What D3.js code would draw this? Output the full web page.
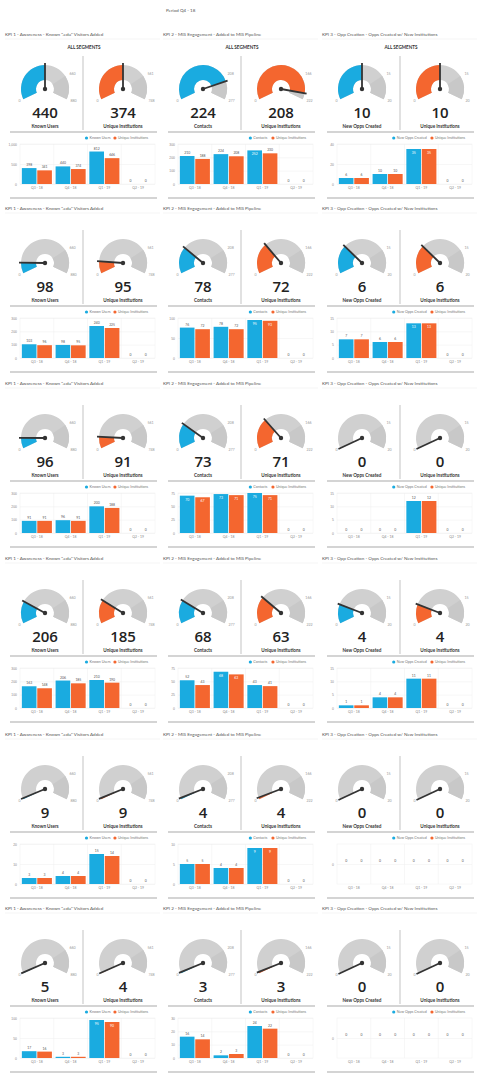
<!DOCTYPE html>
<html><head><meta charset="utf-8">
<script src="https://cdn.jsdelivr.net/npm/d3@7"></script>
<style>body{margin:0;background:#fff;font-family:Lato,"Open Sans",sans-serif}</style>
</head><body><svg id="c" width="484" height="1080"></svg>
<script>
const categories = ["Q3 - 18","Q4 - 18","Q1 - 19","Q2 - 19"];
const kpiTitles = ["KPI 1 - Awareness - Known \".edu\" Visitors Added","KPI 2 - MIS Engagement - Added to MIS Pipeline","KPI 3 - Opp Creation - Opps Created w/ New Institutions"];
const seriesA = ["Known Users","Contacts","New Opps Created"];
const seriesB = "Unique Institutions";
const gaugeMax = [[880,748],[277,222],[20,20]];
const gaugeTarget = [[660,561],[208,166],[15,15]];
const gaugeValues = [
 [[440,374],[224,208],[10,10]],
 [[98,95],[78,72],[6,6]],
 [[96,91],[73,71],[0,0]],
 [[206,185],[68,63],[4,4]],
 [[9,9],[4,4],[0,0]],
 [[5,4],[3,3],[0,0]]
];
const barsA = [
 [[398,440,812,0],[210,224,252,0],[6,10,35,0]],
 [[103,98,240,0],[76,78,95,0],[7,6,13,0]],
 [[91,96,200,0],[70,73,75,0],[0,0,12,0]],
 [[163,206,210,0],[52,68,43,0],[1,4,11,0]],
 [[3,4,15,0],[5,4,9,0],[0,0,0,0]],
 [[17,3,95,0],[16,2,24,0],[0,0,0,0]]
];
const barsB = [
 [[341,374,646,0],[188,208,230,0],[6,10,35,0]],
 [[96,95,225,0],[72,72,93,0],[7,6,13,0]],
 [[91,91,188,0],[67,71,71,0],[0,0,12,0]],
 [[148,185,190,0],[43,63,41,0],[1,4,11,0]],
 [[3,4,14,0],[5,4,9,0],[0,0,0,0]],
 [[16,3,90,0],[14,3,22,0],[0,0,0,0]]
];
const yTicks = [
 [[0,500,1000],[0,100,200,300],[0,20,40]],
 [[0,100,200,300],[0,50,100],[0,5,10,15]],
 [[0,100,200,300],[0,25,50,75],[0,5,10,15]],
 [[0,100,200,300],[0,25,50,75],[0,5,10,15]],
 [[0,10,20],[0,5,10],[0]],
 [[0,50,100],[0,10,20,30],[0]]
];
const BLUE="#1aabe0", ORANGE="#f4662f", GRAY="#d0d0d0", TXT="#555";
const svg=d3.select("#c");
svg.append("text").attr("x",166).attr("y",12).attr("font-size",4.5).attr("fill",TXT).text("Period   Q4 - 18");
const colX=[5,163,322], rowY=[36,210,385,560,736,910];
const fmt=d3.format(",");
const ang=d3.scaleLinear().range([-115*Math.PI/180,115*Math.PI/180]).clamp(true);
function gauge(g,cx,cy,val,max,tgt,color,label){
  const a=ang.copy().domain([0,max]);
  const arc=d3.arc().innerRadius(9).outerRadius(24);
  g.append("path").attr("transform",`translate(${cx},${cy})`).attr("d",arc({startAngle:a(0),endAngle:a(max)})).attr("fill",GRAY);
  g.append("path").attr("transform",`translate(${cx},${cy})`).attr("d",arc({startAngle:a(tgt),endAngle:a(max)})).attr("fill","#c8c8c8");
  if(val>0) g.append("path").attr("transform",`translate(${cx},${cy})`).attr("d",arc({startAngle:a(0),endAngle:a(val)})).attr("fill",color);
  const t=a(val);
  g.append("line").attr("x1",cx).attr("y1",cy).attr("x2",cx+26*Math.sin(t)).attr("y2",cy-26*Math.cos(t)).attr("stroke","#333").attr("stroke-width",1.8);
  g.append("circle").attr("cx",cx).attr("cy",cy).attr("r",2.2).attr("fill","#333");
  const lab=(v,r,anchor)=>{const aa=a(v);g.append("text").attr("x",cx+r*Math.sin(aa)).attr("y",cy-r*Math.cos(aa)+1.5).attr("font-size",3.6).attr("fill","#999").attr("text-anchor",anchor).text(fmt(v));};
  lab(0,27,"end"); lab(tgt,29,"start"); lab(max,28,"start");
  g.append("text").attr("x",cx).attr("y",cy+29).attr("text-anchor","middle").attr("font-size",15).attr("font-weight",600).attr("fill","#222").attr("font-family","'Open Sans',sans-serif").text(fmt(val));
  g.append("text").attr("x",cx).attr("y",cy+39).attr("text-anchor","middle").attr("font-size",4.6).attr("font-weight","bold").attr("fill","#333").text(label);
}
rowY.forEach((T,r)=>{
  colX.forEach((X,k)=>{
    const g=svg.append("g");
    g.append("text").attr("x",X).attr("y",T).attr("font-size",4.6).attr("fill",TXT).text(kpiTitles[k]);
    g.append("line").attr("x1",X).attr("x2",X+155).attr("y1",T+3).attr("y2",T+3).attr("stroke","#eee").attr("stroke-width",0.6);
    if(r===0) g.append("text").attr("x",X+79).attr("y",T+13).attr("text-anchor","middle").attr("font-size",4.6).attr("font-weight","bold").attr("fill","#333").text("ALL SEGMENTS");
    const cy=T+53;
    gauge(g,X+40,cy,gaugeValues[r][k][0],gaugeMax[k][0],gaugeTarget[k][0],BLUE,seriesA[k]);
    gauge(g,X+118,cy,gaugeValues[r][k][1],gaugeMax[k][1],gaugeTarget[k][1],ORANGE,seriesB);
    g.append("line").attr("x1",X+78).attr("x2",X+78).attr("y1",T+20).attr("y2",T+94).attr("stroke","#aaa").attr("stroke-width",0.7);
    g.append("line").attr("x1",X+5).attr("x2",X+152).attr("y1",T+96).attr("y2",T+96).attr("stroke","#aaa").attr("stroke-width",1.2);
    const lg=g.append("g");
    const lx=X+150;
    const wB=seriesB.length*1.95, wA=seriesA[k].length*1.95;
    lg.append("circle").attr("cx",lx-wB-3).attr("cy",T+102).attr("r",1.6).attr("fill",ORANGE);
    lg.append("text").attr("x",lx-wB).attr("y",T+103.3).attr("font-size",3.6).attr("fill","#777").text(seriesB);
    lg.append("circle").attr("cx",lx-wB-wA-10).attr("cy",T+102).attr("r",1.6).attr("fill",BLUE);
    lg.append("text").attr("x",lx-wB-wA-7).attr("y",T+103.3).attr("font-size",3.6).attr("fill","#777").text(seriesA[k]);
    const ticks=yTicks[r][k];
    const top=T+108, bot=T+148;
    const zero=ticks.length===1;
    const y=d3.scaleLinear().domain(zero?[-1,1]:[0,ticks[ticks.length-1]]).range([bot,top]);
    const x=d3.scaleBand().domain(categories).range([X+15,X+150]);
    const xi=d3.scaleBand().domain([0,1]).range([0,x.bandwidth()]).paddingInner(0.05).paddingOuter(0.12);
    categories.forEach((c,i)=>{ if(i>0) g.append("line").attr("x1",x(c)).attr("x2",x(c)).attr("y1",top).attr("y2",bot).attr("stroke","#eee").attr("stroke-width",0.5);});
    g.append("rect").attr("x",X+15).attr("y",top).attr("width",135).attr("height",bot-top).attr("fill","none").attr("stroke","#f0f0f0").attr("stroke-width",0.5);
    const yAx=g.append("g").attr("transform",`translate(${X+15},0)`).call(d3.axisLeft(y).tickValues(ticks).tickSize(-135).tickFormat(fmt));
    yAx.select(".domain").remove();
    yAx.selectAll("line").attr("stroke","#eee").attr("stroke-width",0.5);
    yAx.selectAll("text").attr("font-size",3.4).attr("fill","#888").attr("x",-3);
    g.append("g").selectAll("text").data(categories).join("text").attr("x",c=>x(c)+x.bandwidth()/2).attr("y",bot+5).attr("text-anchor","middle").attr("font-size",3.4).attr("fill","#888").text(c=>c);
    [barsA[r][k],barsB[r][k]].forEach((vals,s)=>{
      vals.forEach((v,i)=>{
        const bx=x(categories[i])+xi(s), bw=xi.bandwidth();
        const y0=zero?y(0):bot;
        if(v>0) g.append("rect").attr("x",bx).attr("y",y(v)).attr("width",bw).attr("height",y0-y(v)).attr("fill",s?ORANGE:BLUE);
        const inside=(y0-y(v))>33;
        g.append("text").attr("x",bx+bw/2).attr("y",inside?y(v)+5:y(v)-2).attr("text-anchor","middle").attr("font-size",3.4).attr("fill",inside?"#fff":"#555").text(fmt(v));
      });
    });
    g.append("line").attr("x1",X+5).attr("x2",X+152).attr("y1",T+162).attr("y2",T+162).attr("stroke","#aaa").attr("stroke-width",1.2);
  });
});
</script></body></html>
